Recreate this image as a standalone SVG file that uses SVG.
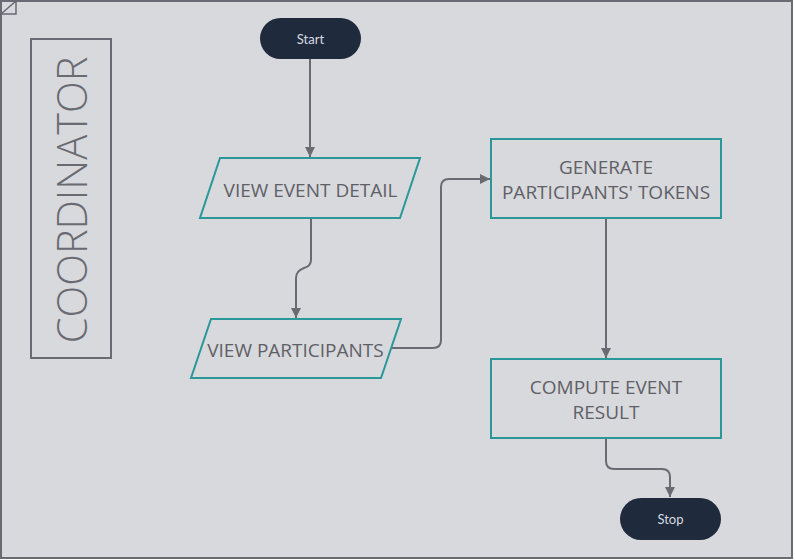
<svg xmlns="http://www.w3.org/2000/svg" width="795" height="560" viewBox="0 0 795 560">
<style>
.frame{fill:#d8d9dd;stroke:#6a6b72;stroke-width:2}
.io{fill:none;stroke:#2a9799;stroke-width:2}
.proc{fill:none;stroke:#2a9799;stroke-width:2}
.term{fill:#1f2a3c}
.lbl{font-family:"Open Sans",sans-serif;font-size:19px;fill:#5f6066;text-anchor:middle}
.tlbl{font-family:Lato,sans-serif;font-size:13px;fill:#d6dae2;text-anchor:middle}
.conn{fill:none;stroke:#6a6b72;stroke-width:2}
</style>
<defs>
<marker id="arr" markerWidth="12" markerHeight="10" refX="10" refY="5" orient="auto" markerUnits="userSpaceOnUse">
<path d="M0,0 L10,5 L0,10 Z" fill="#6a6b72"/>
</marker>
</defs>
<g id="frame">
<rect class="frame" x="1" y="1" width="791" height="557"/>
<path d="M1,14 L16,1 L16,14 Z" fill="#d8d9dd" stroke="#6a6b72" stroke-width="1.5"/>
</g>
<g id="lane">
<rect x="31" y="39" width="80" height="319" fill="none" stroke="#6a6b72" stroke-width="2"/>
<text x="0" y="0" transform="translate(86.5,200) rotate(-90)" font-family="'Open Sans',sans-serif" font-size="41.5" font-weight="300" fill="#6a6b72" text-anchor="middle">COORDINATOR</text>
</g>
<g id="connectors">
<path class="conn" d="M310,59 V157" marker-end="url(#arr)"/>
<path class="conn" d="M311,218 V260 Q311,266 304,268 Q296,271 296,278 V318" marker-end="url(#arr)"/>
<path class="conn" d="M391,348 H433 Q441,348 441,340 V187 Q441,179 449,179 H490" marker-end="url(#arr)"/>
<path class="conn" d="M606,218 V358" marker-end="url(#arr)"/>
<path class="conn" d="M606,438 V461 Q606,469 614,469 H662 Q670,469 670,477 V497" marker-end="url(#arr)"/>
</g>
<g id="start">
<rect class="term" x="260" y="18" width="101" height="41" rx="20.5"/>
<text class="tlbl" x="310.5" y="43.5">Start</text>
</g>
<g id="view-event-detail">
<polygon class="io" points="220,158 420,158 400,218 200,218"/>
<text class="lbl" x="310.5" y="196.5">VIEW EVENT DETAIL</text>
</g>
<g id="view-participants">
<polygon class="io" points="211,319 401,319 381,378 191,378"/>
<text class="lbl" x="295.5" y="356.5">VIEW PARTICIPANTS</text>
</g>
<g id="generate-tokens">
<rect class="proc" x="491" y="139" width="230" height="79"/>
<text class="lbl" x="606" y="173.5">GENERATE</text>
<text class="lbl" x="606" y="198.5">PARTICIPANTS' TOKENS</text>
</g>
<g id="compute-result">
<rect class="proc" x="491" y="359" width="230" height="79"/>
<text class="lbl" x="606" y="393.5">COMPUTE EVENT</text>
<text class="lbl" x="606" y="418.5">RESULT</text>
</g>
<g id="stop">
<rect class="term" x="620" y="498" width="101" height="42" rx="21"/>
<text class="tlbl" x="670.5" y="524">Stop</text>
</g>
</svg>
